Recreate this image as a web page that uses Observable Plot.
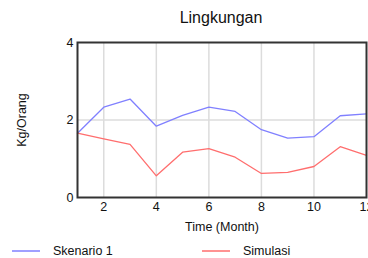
<!DOCTYPE html>
<html><head><meta charset="utf-8">
<script src="https://cdn.jsdelivr.net/npm/d3@7"></script>
<script src="https://cdn.jsdelivr.net/npm/@observablehq/plot@0.6"></script>
<style>
body{margin:0;background:#fff;font-family:"Liberation Sans",Arial,sans-serif;}
#wrap{position:relative;width:368px;height:258px;overflow:hidden;}
#title{position:absolute;left:0;top:9px;width:442px;text-align:center;font-size:16px;color:#111;}
.leg{position:absolute;top:244px;font-size:12.5px;color:#111;display:flex;align-items:center;}
.leg svg{margin-right:13px;}
</style>
</head><body>
<div id="wrap"><div id="title">Lingkungan</div></div>
<script>
const months = [1,2,3,4,5,6,7,8,9,10,11,12];
const skenario1 = [1.66,2.33,2.54,1.84,2.12,2.33,2.22,1.75,1.53,1.57,2.11,2.16];
const simulasi = [1.66,1.51,1.37,0.56,1.17,1.26,1.04,0.62,0.65,0.80,1.31,1.09];
const seriesNames = ["Skenario 1","Simulasi"];
const seriesColors = ["#8080ff","#ff6e6e"];
const xTicks = [2,4,6,8,10,12];
const yTicks = [0,2,4];

const data = [];
months.forEach((m,i)=>{
  data.push({month:m, value:skenario1[i], series:seriesNames[0]});
  data.push({month:m, value:simulasi[i], series:seriesNames[1]});
});

const chart = Plot.plot({
  width:368, height:258,
  marginLeft:77, marginRight:2, marginTop:42, marginBottom:61,
  style:{fontFamily:'"Liberation Sans",Arial,sans-serif', fontSize:"12.5px", color:"#111", overflow:"visible"},
  x:{domain:[1,12]},
  y:{domain:[0,4]},
  color:{domain:seriesNames, range:seriesColors},
  marks:[
    Plot.ruleX(xTicks.slice(0,-1), {stroke:"#dcdcdc", strokeWidth:1.5}),
    Plot.ruleY([2], {stroke:"#dcdcdc", strokeWidth:1.5}),
    Plot.line(data, {x:"month", y:"value", stroke:"series", strokeWidth:1.3}),
    Plot.axisX(xTicks, {tickSize:0, tickPadding:5, fontSize:12.5, label:"Time (Month)", labelAnchor:"center", labelOffset:33, labelArrow:"none"}),
    Plot.axisY(yTicks, {tickSize:0, tickPadding:4, fontSize:12.5, label:"Kg/Orang", labelAnchor:"center", labelOffset:60, labelArrow:"none"}),
    Plot.frame({stroke:"#333", strokeWidth:2})
  ]
});
const wrap = document.getElementById("wrap");
chart.style.position="absolute"; chart.style.left="0"; chart.style.top="0";
wrap.insertBefore(chart, wrap.firstChild);
const lefts=[12,202];
seriesNames.forEach((n,i)=>{
  const d=document.createElement("div");
  d.className="leg"; d.style.left=lefts[i]+"px";
  d.innerHTML=`<svg width="28" height="6"><line x1="0" x2="28" y1="3" y2="3" stroke="${seriesColors[i]}" stroke-width="1.5"/></svg>${n}`;
  wrap.appendChild(d);
});
</script>
</body></html>
